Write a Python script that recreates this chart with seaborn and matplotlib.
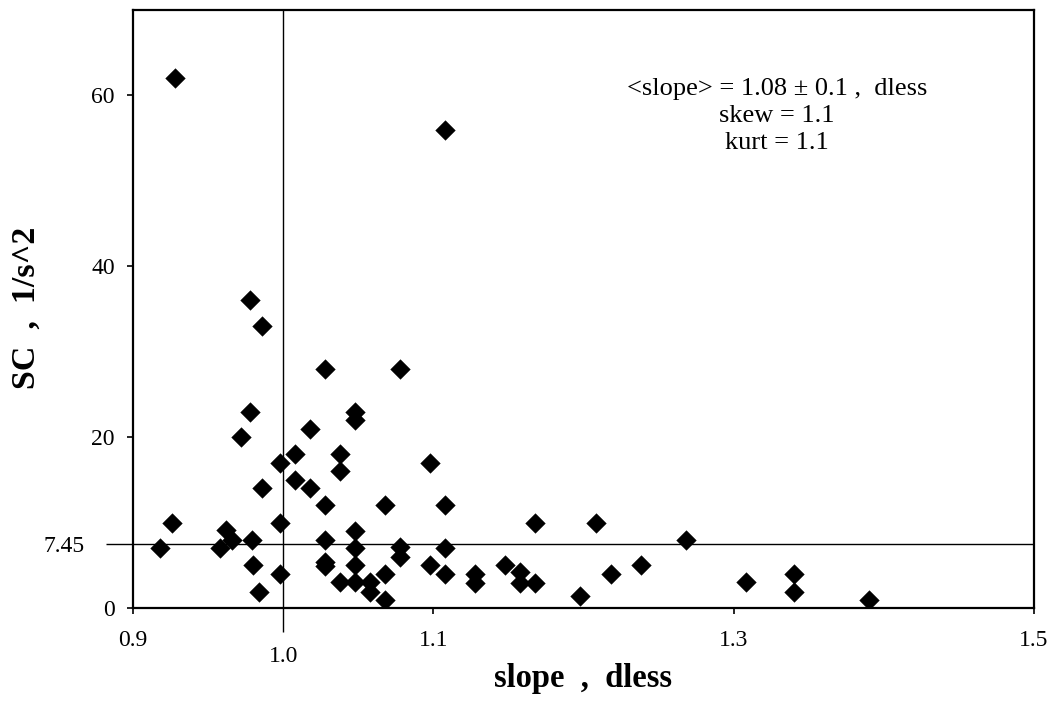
import matplotlib
matplotlib.use("Agg")
import matplotlib.pyplot as plt
import seaborn as sns
import pandas as pd

slope = [0.928, 1.108, 0.978, 0.986, 1.028, 1.078, 0.978, 1.048, 1.048, 1.018,
         0.972, 1.008, 1.038, 0.998, 1.098, 1.038, 1.008, 1.018, 0.986, 1.028,
         1.068, 1.108, 0.926, 0.998, 1.168, 1.208, 0.962, 1.048, 0.966, 0.979,
         1.028, 1.268, 0.918, 0.958, 1.048, 1.078, 1.108, 1.078, 1.028, 1.028,
         0.980, 1.048, 1.098, 1.148, 1.238, 0.998, 1.068, 1.108, 1.128, 1.158,
         1.218, 1.340, 1.038, 1.048, 1.058, 1.128, 1.158, 1.168, 1.308, 0.984,
         1.058, 1.340, 1.198, 1.068, 1.390]
sc = [62.0, 56.0, 36.0, 33.0, 28.0, 28.0, 23.0, 23.0, 22.0, 21.0,
      20.0, 18.0, 18.0, 17.0, 17.0, 16.0, 15.0, 14.0, 14.0, 12.0,
      12.0, 12.0, 10.0, 10.0, 10.0, 10.0, 9.1, 9.0, 8.0, 8.0,
      8.0, 8.0, 7.0, 7.0, 7.0, 7.1, 7.0, 6.0, 5.4, 4.9,
      5.0, 5.0, 5.0, 5.0, 5.0, 4.0, 4.0, 4.0, 4.0, 4.2,
      4.0, 4.0, 3.0, 3.0, 3.1, 2.9, 2.9, 2.9, 3.0, 1.9,
      1.9, 1.9, 1.4, 0.9, 0.9]

x_ticks = [0.9, 1.0, 1.1, 1.3, 1.5]
x_tick_labels = ["0.9", "1.0", "1.1", "1.3", "1.5"]
y_ticks = [0, 7.45, 20, 40, 60]
y_tick_labels = ["0", "7.45", "20", "40", "60"]
mean_slope = 1.0
ref_sc = 7.45
annotation = ["<slope> = 1.08 \u00b1 0.1 ,  dless", "skew = 1.1", "kurt = 1.1"]

sns.set_style("white")
plt.rcParams["font.family"] = ["Liberation Serif", "DejaVu Serif"]
plt.rcParams["text.color"] = "black"
plt.rcParams["axes.labelcolor"] = "black"
plt.rcParams["xtick.color"] = "black"
plt.rcParams["ytick.color"] = "black"

df = pd.DataFrame({"slope": slope, "sc": sc})

fig = plt.figure(figsize=(10.54, 7.02), dpi=100)
ax = fig.add_axes([0.1262, 0.1339, 0.981 - 0.1262, 0.9858 - 0.1339])

ax.axvline(mean_slope, color="black", lw=1.0, zorder=1)
ax.axhline(ref_sc, color="black", lw=1.0, zorder=1)

sns.scatterplot(data=df, x="slope", y="sc", marker="D", s=100, color="black",
                edgecolor="black", linewidth=0.3, ax=ax, zorder=3, legend=False)

ax.set_xlim(0.9, 1.5)
ax.set_ylim(0, 70)
ax.set_xticks(x_ticks)
ax.set_xticklabels(x_tick_labels)
ax.set_yticks(y_ticks)
ax.set_yticklabels(y_tick_labels)
ax.tick_params(axis="both", direction="out", length=4.5, width=1.2,
               labelsize=17, bottom=True, left=True)
ax.tick_params(axis="y", pad=8.5)
ax.tick_params(axis="x", pad=11)

# reference level tick on y: longer line, label pushed left
t_y = ax.yaxis.get_major_ticks()[1]
t_y.set_pad(30)
t_y.tick1line.set_markersize(19.5)
t_y.tick1line.set_markeredgewidth(1.0)
# reference slope tick on x: line continues below axis, label lower
t_x = ax.xaxis.get_major_ticks()[1]
t_x.set_pad(22.5)
t_x.tick1line.set_markersize(17.5)
t_x.tick1line.set_markeredgewidth(1.0)

for sp in ax.spines.values():
    sp.set_color("black")
    sp.set_linewidth(1.6)

ax.set_xlabel("slope  ,  dless", fontsize=23.5, fontweight="bold")
ax.set_ylabel("SC  ,  1/s^2", fontsize=24.5, fontweight="bold")
ax.xaxis.set_label_coords(0.5, -0.092)
ax.yaxis.set_label_coords(-0.101, 0.502)

ax.text(0.715, 0.823, "\n".join(annotation), transform=ax.transAxes,
        ha="center", va="center", fontsize=19, linespacing=1.3)

fig.savefig("out.png", dpi=100)
